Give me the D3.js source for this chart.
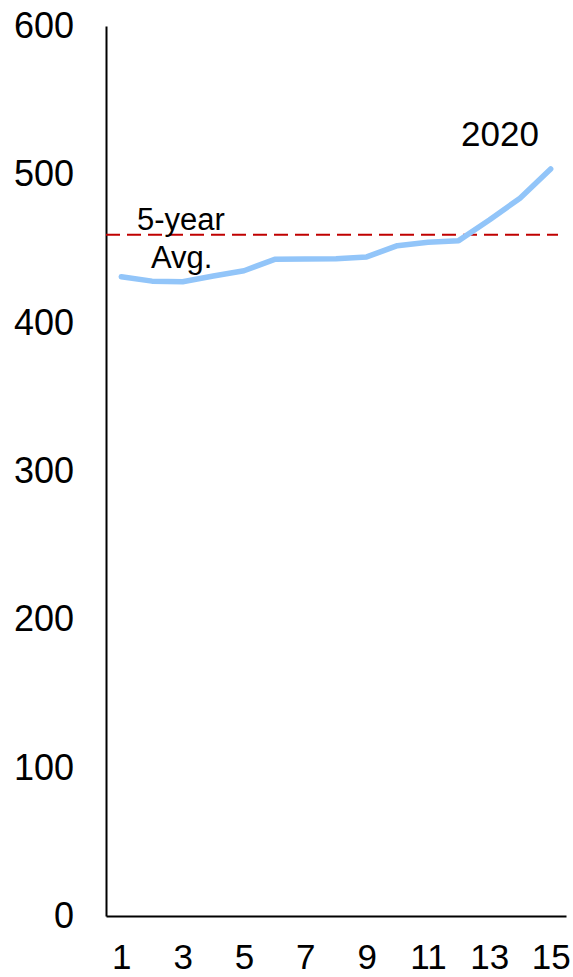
<!DOCTYPE html>
<html>
<head>
<meta charset="utf-8">
<script src="https://cdn.jsdelivr.net/npm/d3@7"></script>
<style>
  html, body { margin: 0; padding: 0; background: #fff; }
  svg { display: block; font-family: "Liberation Sans", Arial, sans-serif; }
</style>
</head>
<body>
<svg id="chart" width="573" height="977"></svg>
<script>
// Weekly series (weeks 1–15) and its five-year average
const weeks = [1, 2, 3, 4, 5, 6, 7, 8, 9, 10, 11, 12, 13, 14, 15];
const values2020 = [431, 428, 427.6, 431.5, 435, 442.7, 442.9, 443.1, 444.3, 451.9, 454.2, 455.3, 469.2, 483.9, 503.6];
const fiveYearAvg = 459.3;
const yTicks = [0, 100, 200, 300, 400, 500, 600];
const xTickLabels = [1, 3, 5, 7, 9, 11, 13, 15];

const svg = d3.select("#chart");
const plot = { left: 106, right: 566, top: 26, bottom: 916 };

const x = d3.scalePoint()
  .domain(weeks)
  .range([plot.left, plot.right])
  .padding(0.5);

const y = d3.scaleLinear()
  .domain([0, 600])
  .range([plot.bottom, plot.top]);

// Y axis: line plus labels, no tick marks
const yAxis = svg.append("g")
  .attr("transform", `translate(${plot.left},0)`)
  .call(d3.axisLeft(y).tickValues(yTicks).tickSize(0).tickPadding(32));
yAxis.select(".domain").attr("stroke", "#000").attr("stroke-width", 2);
yAxis.selectAll("text")
  .attr("font-size", 36)
  .attr("font-family", "Liberation Sans, Arial, sans-serif")
  .attr("fill", "#000");

// X axis: line plus odd-week labels
const xAxis = svg.append("g")
  .attr("transform", `translate(0,${plot.bottom})`)
  .call(d3.axisBottom(x).tickValues(xTickLabels).tickSize(0).tickPadding(28));
xAxis.select(".domain").attr("stroke", "#000").attr("stroke-width", 2);
xAxis.selectAll("text")
  .attr("font-size", 35)
  .attr("font-family", "Liberation Sans, Arial, sans-serif")
  .attr("fill", "#000");

// Five-year average reference line
svg.append("line")
  .attr("x1", plot.left)
  .attr("x2", 558)
  .attr("y1", y(fiveYearAvg))
  .attr("y2", y(fiveYearAvg))
  .attr("stroke", "#c00000")
  .attr("stroke-width", 2)
  .attr("stroke-dasharray", "14,7");

// 2020 line
const line = d3.line()
  .x((d, i) => x(weeks[i]))
  .y(d => y(d));

svg.append("path")
  .datum(values2020)
  .attr("d", line)
  .attr("fill", "none")
  .attr("stroke", "#92c5f9")
  .attr("stroke-width", 5.5)
  .attr("stroke-linejoin", "round")
  .attr("stroke-linecap", "round");

// Annotations
svg.append("text")
  .attr("x", 137).attr("y", 230)
  .attr("font-size", 31)
  .attr("fill", "#000")
  .text("5-year");

svg.append("text")
  .attr("x", 151).attr("y", 268)
  .attr("font-size", 31)
  .attr("fill", "#000")
  .text("Avg.");

svg.append("text")
  .attr("x", 461).attr("y", 146)
  .attr("font-size", 35)
  .attr("fill", "#000")
  .text("2020");
</script>
</body>
</html>
